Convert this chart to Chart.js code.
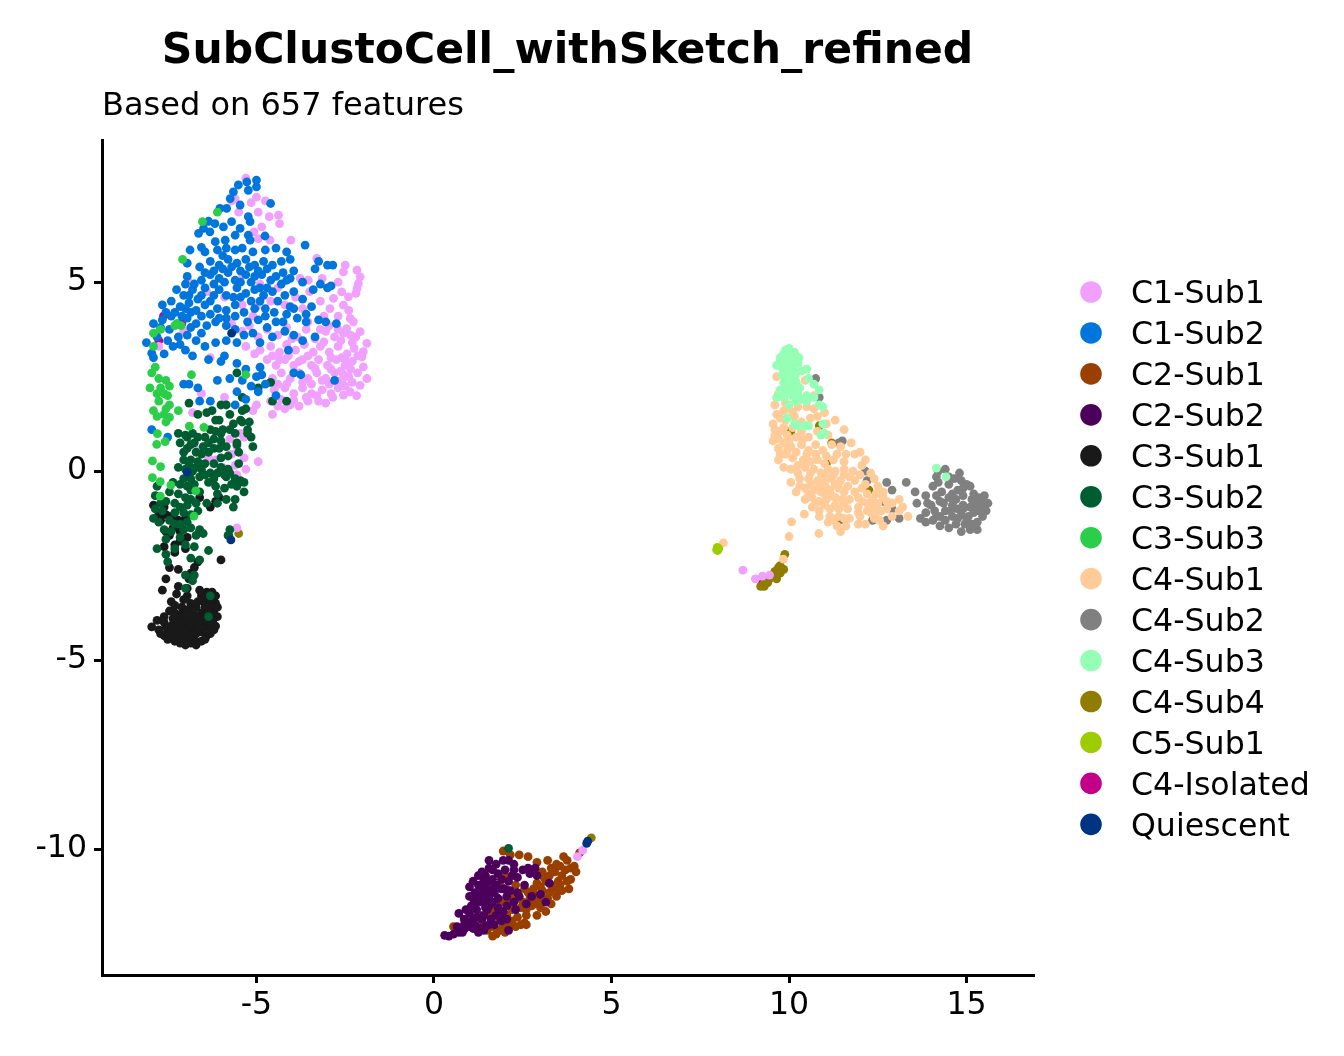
<!DOCTYPE html>
<html>
<head>
<meta charset="utf-8">
<script src="https://cdn.jsdelivr.net/npm/chart.js@4"></script>
<style>
html, body { margin: 0; padding: 0; background: #fff; }
canvas { display: block; }
</style>
</head>
<body>
<canvas id="umap" width="1344" height="1056"></canvas>
<script>
const clusterNames = ['C1-Sub1','C1-Sub2','C2-Sub1','C2-Sub2','C3-Sub1','C3-Sub2','C3-Sub3','C4-Sub1','C4-Sub2','C4-Sub3','C4-Sub4','C5-Sub1','C4-Isolated','Quiescent'];
const clusterColors = ['#F0A0FF','#0075DC','#993F00','#4C005C','#191919','#005C31','#2BCE48','#FFCC99','#808080','#94FFB5','#8F7C00','#9DCC00','#C20088','#003380'];
// lower = painted later, so it sits on top
const paintOrder = [5,3,5,3,6,4,2,4,6,2,7,1,8,0];
const xTicks = [-5,0,5,10,15];
const yTicks = [-10,-5,0,5];

const c1Sub1 = [[-5.3,7.75],[-5.6,7.2],[-5.0,7.25],[-5.15,7.1],[-5.7,7.15],[-4.75,7.15],[-5.5,6.85],[-4.95,6.85],[-4.85,6.46],[-5.07,6.33],[-4.95,6.15],[-4.64,6.73],[-4.38,6.77],[-4.35,6.55],[-4.03,6.11],[-4.62,6.11],[-3.3,5.63],[-2.5,5.45],[-2.17,5.32],[-2.55,5.27],[-2.08,5.14],[-2.13,4.96],[-2.17,4.83],[-3.77,5.1],[-3.54,5.05],[-2.6,4.74],[-2.83,4.57],[-2.41,4.61],[-2.93,4.3],[-2.55,4.39],[-2.36,4.04],[-2.27,3.95],[-2.46,3.77],[-2.08,3.69],[-1.89,3.38],[-1.99,3.16],[-2.03,3.02],[-1.99,2.76],[-1.89,2.45],[-2.08,2.27],[-2.55,2.01],[-2.36,2.1],
[-5.4,5.2],[-4.9,4.95],[-4.4,4.85],[-3.9,4.6],[-3.5,4.75],[-3.2,4.5],[-3.7,4.3],[-4.2,4.4],[-4.6,4.5],[-5.0,4.35],[-5.4,4.4],[-5.9,4.6],[-6.4,4.75],[-6.9,5.0],
[-5.7,3.9],[-5.4,3.7],[-5.2,3.85],[-4.95,3.55],[-4.7,3.75],[-4.4,3.6],[-4.15,3.8],[-3.85,3.55],[-3.6,3.75],[-3.35,3.5],[-3.05,3.7],[-2.8,3.55],[-2.55,3.65],[-2.3,3.4],
[-5.3,3.3],[-5.05,3.1],[-4.6,3.3],[-4.35,3.15],[-4.15,3.35],[-3.9,3.2],[-3.65,3.35],[-3.4,3.15],[-3.2,3.3],[-2.95,3.15],[-2.7,3.3],[-2.45,3.1],[-2.25,3.25],
[-4.7,2.95],[-4.45,2.8],[-4.2,2.95],[-3.95,2.8],[-3.7,2.95],[-3.45,2.8],[-3.25,2.95],[-3.0,2.8],[-2.75,2.95],[-2.5,2.8],[-2.3,2.9],[-2.15,2.6],
[-4.85,2.55],[-4.55,2.45],[-4.3,2.6],[-4.05,2.45],[-3.8,2.6],[-3.55,2.45],[-3.3,2.6],[-3.05,2.45],[-2.8,2.6],[-2.6,2.4],[-2.4,2.5],
[-4.5,2.15],[-4.2,2.2],[-3.95,2.05],[-3.7,2.2],[-3.45,2.05],[-3.15,2.15],[-2.9,2.05],[-2.7,2.2],[-2.5,2.25],
[-4.6,1.85],[-4.3,1.9],[-4.05,1.75],[-3.8,1.72],[-3.55,1.85],[-3.25,1.85],[-3.05,1.8],[-4.55,1.5],[-5.45,1.0],[-5.1,1.6],
[-6.8,1.55],[-5.9,1.95],[-6.55,2.05],[-5.0,1.75],[-6.3,3.0],[-7.05,3.7],[-7.75,3.3],
[-6.65,0.55],[-5.75,0.85],[-5.55,0.65],[-5.35,0.9],[-5.95,0.1],[-5.7,0.45],[-6.15,0.3],[-6.35,0.35],[-5.6,0.15],[-5.35,0.35],[-5.3,0.05],[-5.55,-0.1],[-4.95,0.25],[-5.55,-1.5],
[4.19,-10.03],[4.04,-10.2],[8.7,-2.62],[9.05,-2.85],[9.25,-2.78],[9.45,-2.75],
[-3.1,3.42],[-2.62,3.45],[-2.9,3.0],[-2.6,3.0],[-3.55,3.05],[-3.8,2.9],[-4.1,3.05],[-4.35,2.95],[-4.55,3.05],[-3.35,2.72],[-2.9,2.7],[-2.62,2.65],[-2.35,2.7],[-3.15,2.4],[-2.95,2.3],[-3.45,2.3],[-3.7,2.35],[-4.15,2.3],[-4.4,2.3],[-2.75,2.38],[-2.55,2.55],[-3.3,2.0],[-3.6,1.95],[-4.4,1.72],[-4.2,1.65],[-3.95,1.88],[-2.85,1.95],[-2.15,3.05],[-2.2,3.55],[-2.35,3.6],[-2.7,3.75],[-2.95,3.85],[-3.2,3.75],[-3.55,3.95],[-2.5,2.95],[-2.3,2.35],[-2.18,2.0],[-2.7,4.1],[-2.4,4.25],[-3.1,4.1],[-2.2,4.7],[-2.7,5.0],[-3.15,5.1],[-5.1,4.1],[-4.9,3.2],[-4.0,3.5]];
const c1Sub2 = [[-5.27,7.65],[-5.0,7.7],[-5.51,7.57],[-5.23,7.43],[-5.65,7.39],[-5.0,7.52],[-5.74,7.21],[-6.03,6.95],[-5.84,6.95],[-5.46,7.04],[-4.6,7.08],[-5.23,6.73],[-5.18,6.6],[-5.7,6.6],[-6.35,6.61],[-6.17,6.55],[-5.93,6.46],[-5.46,6.42],[-6.49,6.42],[-6.63,6.29],[-6.31,6.33],[-5.23,6.24],[-4.76,6.22],[-5.18,6.11],[-5.6,6.24],[-5.88,6.11],[-6.16,6.07],[-3.63,5.98],
[-6.87,5.85],[-6.55,5.92],[-6.45,5.8],[-6.1,5.85],[-5.85,5.9],[-5.6,5.85],[-5.4,5.9],[-5.1,5.8],[-4.75,5.85],[-4.45,5.9],[-4.15,5.8],[-4.05,5.6],[-4.3,5.55],
[-6.95,5.5],[-6.6,5.4],[-6.3,5.55],[-6.05,5.45],[-5.8,5.6],[-5.55,5.5],[-5.3,5.6],[-5.05,5.45],[-4.8,5.55],[-4.55,5.45],[-3.95,5.3],[-4.25,5.25],[-3.25,5.55],[-3.0,5.45],[-2.85,5.45],[-3.35,5.35],
[-6.95,5.15],[-7.0,4.95],[-6.55,5.05],[-6.3,5.2],[-6.05,5.1],[-5.8,5.25],[-5.6,5.05],[-5.3,5.2],[-5.15,5.0],[-4.85,5.2],[-4.6,5.05],[-4.3,4.95],[-4.05,5.1],[-3.7,5.0],[-3.4,4.8],[-3.2,4.95],[-3.0,4.85],[-2.9,4.9],
[-7.25,4.8],[-7.05,4.65],[-6.8,4.8],[-6.55,4.65],[-6.3,4.5],[-6.05,4.8],[-5.85,4.65],[-5.55,4.85],[-5.3,4.7],[-5.05,4.8],[-4.8,4.65],[-4.55,4.75],[-4.2,4.65],[-3.95,4.75],[-3.7,4.55],[-3.45,4.35],
[-7.65,4.4],[-7.4,4.5],[-7.15,4.35],[-6.9,4.45],[-6.7,4.25],[-6.45,4.4],[-6.1,4.3],[-5.85,4.25],[-5.6,4.4],[-5.35,4.2],[-5.05,4.3],[-4.75,4.3],[-4.5,4.2],[-4.15,4.15],[-3.85,4.05],[-3.6,3.95],[-3.25,4.0],[-3.05,3.95],[-2.75,3.9],
[-7.9,3.9],[-7.65,4.0],[-7.4,4.1],[-7.2,3.9],[-6.95,4.05],[-6.7,3.9],[-6.4,3.85],[-6.15,3.95],[-5.85,3.85],[-5.6,3.75],[-5.25,3.95],[-4.95,4.0],[-4.7,3.8],[-4.45,3.95],[-4.2,3.7],[-3.95,3.6],[-3.7,3.45],[-3.35,3.55],
[-8.1,3.4],[-7.8,3.55],[-7.5,3.45],[-7.2,3.55],[-6.95,3.6],[-6.7,3.45],[-6.45,3.3],[-6.15,3.4],[-5.85,3.45],[-5.55,3.4],[-4.9,3.4],[-4.55,3.55],[-4.1,3.2],[-7.9,3.0],[-7.6,3.1],[-7.0,3.2],[-6.8,3.05],[-6.35,2.95],[-5.9,3.05],[-5.55,2.85],[-5.3,2.7],[-4.9,2.75],[-3.75,2.55],[-2.8,2.4],
[-7.95,3.12],[-7.05,2.3],[-6.65,2.2],[-6.1,2.4],[-5.75,2.45],[-5.4,2.4],[-5.15,2.25],[-4.95,2.1],[-4.75,2.3],[-4.85,2.55],[-6.3,1.85],[-5.3,1.9],[-5.6,1.75],[-4.45,2.0],[-3.95,2.6],[-7.95,1.1],[-6.9,2.3],[-6.6,1.85],[-5.55,2.1],[-6.0,2.9],[-5.0,2.5],[-7.5,0.9],
[-5.95,5.7],[-5.7,5.4],[-5.45,5.3],[-5.2,5.4],[-4.95,5.3],[-4.7,5.35],[-5.95,5.35],[-6.2,5.3],[-6.45,5.25],[-5.9,5.0],[-5.45,5.0],[-5.05,5.15],[-4.9,4.85],[-4.7,4.85],[-4.45,5.15],[-4.15,5.05],[-6.2,4.95],[-6.45,4.85],[-6.75,4.95],[-6.9,4.65],[-6.65,4.55],[-6.2,4.65],[-5.65,4.6],[-5.45,4.6],[-5.15,4.5],[-4.9,4.5],[-4.4,4.5],[-4.05,4.35],[-7.0,4.3],[-7.3,4.2],[-7.55,4.2],[-7.1,4.1],[-6.85,4.2],[-6.55,4.1],[-7.45,3.75],[-7.7,3.8],[-6.85,3.8],[-6.55,3.65],[-7.35,3.3],[-7.15,3.35],[-5.35,3.6],[-5.1,3.65],[-4.25,3.95],[-4.75,4.1],[-3.6,4.15],[-3.95,4.3],[-5.6,4.1],[-5.85,4.05],[-6.3,4.15],[-6.05,4.05]];
const c2Sub1 = [[1.95,-10.05],[2.15,-10.15],[2.4,-10.15],[2.65,-10.2],[2.9,-10.35],[3.2,-10.3],[3.45,-10.4],[3.75,-10.3],[3.95,-10.45],[4.0,-10.6],[2.75,-10.55],[3.05,-10.6],[3.4,-10.6],[3.7,-10.55],[3.85,-10.8],[3.5,-10.85],[3.15,-10.85],[2.9,-10.9],[3.8,-11.05],[3.6,-11.1],[3.35,-11.05],[3.05,-11.1],[2.8,-11.05],[2.55,-11.05],[2.3,-10.95],[2.1,-11.1],[3.45,-11.25],[3.2,-11.3],[2.95,-11.35],[2.7,-11.3],[2.4,-11.3],[2.2,-11.35],[1.85,-11.35],[3.3,-11.45],[3.0,-11.55],[2.75,-11.5],[2.45,-11.55],[2.2,-11.6],[1.9,-11.4],[3.15,-11.65],[2.9,-11.75],[2.6,-11.75],[2.35,-11.8],[2.05,-11.75],[1.85,-11.85],[1.55,-11.7],[2.45,-12.0],[2.6,-12.0],[2.3,-12.05],[2.1,-12.05],[1.65,-12.05],[2.0,-12.2],[1.85,-12.15],[1.65,-12.3],[1.75,-12.25],[1.1,-11.85],[0.55,-12.05],[1.3,-11.75],[1.9,-11.0],[2.0,-10.7],[2.8,-11.2],[1.35,-11.95],[3.1,-10.75],[3.65,-10.2],[2.55,-11.95],[1.5,-12.15],[4.1,-10.1],
[3.3,-10.5],[3.55,-10.45],[3.85,-10.5],[3.25,-10.7],[3.6,-10.7],[3.75,-10.85],[3.3,-10.95],[3.0,-11.0],[3.55,-10.95],[3.25,-11.15],[3.5,-11.05],[2.65,-11.15],[2.5,-11.4],[2.85,-11.45],[2.25,-11.2],[2.05,-11.45],[1.7,-11.6],[2.6,-11.6],[2.2,-11.9],[1.95,-12.05]];
const c2Sub2 = [[0.3,-12.28],[0.42,-12.3],[0.55,-12.25],[0.7,-12.2],[0.85,-12.12],[0.65,-12.05],[0.9,-11.95],[1.1,-12.1],[1.25,-12.2],[1.45,-12.05],[1.7,-12.0],[1.05,-11.9],[0.85,-11.85],[0.7,-11.7],[1.0,-11.7],[1.2,-11.6],[1.4,-11.75],[1.6,-11.85],[1.85,-11.75],[2.05,-11.85],[1.15,-11.45],[1.35,-11.4],[1.55,-11.5],[1.8,-11.55],[2.05,-11.5],[2.3,-11.6],[1.0,-11.25],[1.15,-11.15],[1.35,-11.2],[1.55,-11.25],[1.8,-11.3],[2.05,-11.25],[2.25,-11.4],[2.6,-11.45],[1.0,-11.0],[1.1,-10.85],[1.25,-10.95],[1.45,-11.0],[1.65,-11.05],[1.9,-11.05],[2.15,-11.1],[2.35,-11.15],[2.75,-11.25],[3.15,-11.4],[3.0,-11.2],[1.25,-10.7],[1.45,-10.7],[1.65,-10.8],[1.9,-10.8],[2.1,-10.85],[2.35,-10.75],[2.55,-10.95],[2.7,-10.65],[2.9,-10.7],[3.25,-10.9],[1.55,-10.5],[1.75,-10.4],[2.0,-10.55],[2.25,-10.55],[2.5,-10.55],[2.65,-10.5],[2.85,-10.5],[1.55,-10.3],[1.95,-10.3],[2.1,-10.3],[2.25,-10.4],[0.95,-12.0],[1.0,-12.05],[1.5,-11.6],[1.3,-12.1],[1.9,-11.9],[2.1,-12.15],[1.1,-11.3],[1.7,-11.15],[2.4,-11.25],
[1.25,-11.3],[1.45,-11.35],[1.65,-11.4],[1.3,-11.05],[1.55,-11.1],[1.75,-10.95],[1.4,-10.85],[1.55,-10.85],[1.8,-10.65],[1.65,-10.55],[0.85,-12.0],[1.15,-12.0],[1.35,-11.85],[1.55,-12.0],[1.75,-11.75],[1.2,-11.8],[1.05,-11.5],[0.9,-11.6],[1.45,-11.55],[2.0,-11.05],[1.35,-10.6],[2.2,-10.7],[0.8,-12.2],[1.4,-12.15],[1.95,-11.65]];
const c3Sub1 = [[-7.95,-4.12],[-7.8,-3.95],[-7.75,-4.2],[-7.6,-4.35],[-7.55,-4.1],[-7.4,-4.4],[-7.3,-4.5],[-7.25,-4.2],[-7.15,-4.55],[-7.05,-4.4],[-7.0,-4.6],[-6.85,-4.55],[-6.75,-4.45],[-6.7,-4.6],[-6.55,-4.5],[-6.4,-4.35],[-6.35,-4.15],[-6.25,-4.0],[-6.2,-3.9],[-6.15,-4.1],[-6.3,-4.3],[-7.5,-4.25],[-7.35,-4.05],[-7.2,-3.95],[-7.05,-4.1],[-6.9,-4.25],[-6.75,-4.2],[-6.6,-4.05],[-6.45,-4.0],[-7.15,-3.8],[-7.0,-3.85],[-6.85,-3.95],[-6.7,-3.95],[-7.6,-3.85],[-7.45,-3.7],[-7.1,-3.6],[-7.3,-3.55],[-6.9,-3.65],[-6.45,-3.5],[-6.3,-3.45],[-6.2,-3.7],[-6.15,-3.5],[-6.55,-3.75],[-6.4,-3.2],[-6.25,-3.2],[-6.55,-3.3],[-6.6,-3.15],[-6.15,-3.3],[-6.3,-3.55],[-6.1,-3.85],[-7.4,-3.45],[-7.25,-3.25],[-7.2,-3.05],[-7.05,-3.4],[-6.95,-3.3],[-6.95,-3.1],[-6.9,-2.85],[-6.85,-2.7],[-6.75,-2.55],[-7.65,-3.15],[-7.55,-2.85],[-6.65,-2.4],[-6.0,-2.35],[-7.2,-2.6],[-7.45,-2.55],[-7.6,-2.0],[-7.3,-1.95],[-7.15,-1.85],[-7.45,-1.7],[-7.55,-1.6],[-7.35,-1.5],[-7.15,-1.6],[-6.95,-1.75],[-7.55,-1.15],[-7.6,-0.95],[-7.7,-1.3],[-7.4,-1.2],[-7.2,-1.3],[-6.6,-1.6],[-6.3,-0.95],[-6.15,-0.8],[-6.05,-0.7],[-6.6,-0.7],[-7.0,-1.25],[-7.75,-1.15],[-7.9,-0.9],[-7.0,-2.05],[-7.3,-2.15],
[-7.7,-4.3],[-7.6,-4.0],[-7.45,-4.15],[-7.3,-4.35],[-7.15,-4.3],[-7.0,-4.25],[-6.85,-4.4],[-6.7,-4.3],[-6.55,-4.25],[-6.45,-4.45],[-7.5,-4.45],[-7.2,-4.45],[-6.95,-4.5],[-7.35,-3.9],[-7.2,-4.1],[-6.95,-3.95],[-6.8,-4.1],[-6.6,-3.9],[-6.5,-4.15],[-6.4,-3.85],[-7.1,-3.95],[-6.35,-3.7],[-6.25,-3.6],[-6.45,-3.6],[-6.2,-3.35],[-6.1,-3.6],[-6.35,-3.35],[-6.5,-3.4],[-7.0,-3.75],[-6.75,-3.8],[-7.3,-3.75],[-6.9,-4.1],[-6.65,-4.15],[-7.4,-4.3],[-7.05,-4.5],[-6.55,-3.95],[-6.2,-4.2],[-7.25,-4.0],[-6.8,-3.85],[-6.7,-3.6],[-6.85,-3.5],[-6.65,-3.45]];
const c3Sub2 = [[-6.9,1.8],[-6.0,1.75],[-5.4,1.95],[-6.25,1.6],[-6.15,1.35],[-5.85,1.75],[-5.75,1.5],[-5.65,1.25],[-5.4,1.6],[-5.25,1.1],[-5.55,2.6],[-4.6,2.35],[-4.55,1.85],[-4.15,1.85],[-4.95,2.2],
[-5.3,1.65],[-5.45,1.35],[-6.65,1.5],[-6.4,1.55],[-6.05,1.35],[-5.75,1.1],[-5.6,1.0],[-5.4,1.3],[-5.2,1.3],[-5.15,0.9],[-6.0,0.8],[-7.2,1.0],[-6.95,0.9],[-6.8,1.0],[-6.65,0.9],[-6.45,0.9],[-6.2,0.85],[-6.0,1.0],[-5.95,1.1],[-5.55,0.75],[-5.25,1.0],[-5.5,0.5],[-5.55,0.7],[-5.1,0.65],
[-7.15,0.75],[-6.95,0.6],[-6.85,0.7],[-6.7,0.5],[-6.5,0.65],[-6.35,0.5],[-6.2,0.6],[-6.0,0.35],[-5.8,0.4],[-5.5,0.2],[-7.05,0.3],[-6.85,0.3],[-6.65,0.25],[-6.45,0.2],[-6.2,0.2],[-6.0,0.1],[-5.8,0.05],[-5.9,-0.1],[-7.2,0.1],[-7.0,0.05],[-6.8,0.0],[-6.55,0.05],[-6.3,-0.05],[-6.1,-0.05],[-5.85,-0.15],[-5.6,-0.2],[-5.45,-0.25],[-5.35,-0.3],[-7.05,-0.2],[-6.85,-0.2],[-6.6,-0.15],[-6.35,-0.3],[-6.15,-0.4],[-5.9,-0.45],[-5.7,-0.35],[-5.55,-0.4],[-5.35,-0.55],[-7.85,-0.65],[-7.7,-0.85],[-7.45,-0.55],[-7.2,-0.6],[-7.0,-0.7],[-6.85,-0.5],[-6.6,-0.55],[-6.95,-0.9],[-6.7,-0.85],[-6.4,-0.85],[-6.1,-0.85],[-5.85,-0.75],[-5.6,-0.75],[-5.65,-0.95],[-7.85,-1.0],[-7.65,-1.05],[-7.3,-1.1],[-7.05,-1.1],[-6.85,-1.15],[-6.65,-1.05],[-7.9,-1.25],[-7.75,-1.35],[-7.3,-1.4],[-7.15,-1.4],[-6.95,-1.35],[-6.85,-1.5],[-7.6,-1.55],[-7.55,-1.8],[-7.4,-1.6],[-7.15,-1.75],[-6.7,-1.7],[-6.6,-1.55],[-6.5,-1.65],[-7.3,-2.05],[-7.0,-1.95],[-6.75,-2.0],[-7.8,-2.05],[-7.55,-2.2],[-6.85,-2.3],[-6.6,-2.35],[-6.35,-2.1],[-7.5,-2.4],[-6.75,-2.75],[-7.0,-2.75],[-6.8,-2.9],[-5.75,-1.55],[-5.8,-1.7],[-7.0,-3.1],[-6.3,-3.3],[-6.35,-3.85],[-7.8,-0.4],[2.1,-9.98],[-5.78,-1.7],
[-7.05,0.5],[-6.75,0.75],[-6.55,0.45],[-6.9,0.15],[-6.7,0.1],[-6.45,-0.1],[-6.2,-0.2],[-6.75,-0.35],[-6.95,-0.4],[-7.15,-0.35],[-7.3,-0.85],[-7.15,-0.95],[-6.85,-0.75],[-7.55,-0.8],[-7.0,0.95],[-6.3,1.1],[-6.15,1.05],[-6.35,0.75],[-6.05,0.6],[-5.85,0.65],[-5.75,-0.05],[-6.1,-0.6],[-7.45,-1.3],[-7.05,-1.55],[-7.35,-0.3]];
const c3Sub3 = [[-6.1,6.85],[-6.52,6.6],[-7.08,5.6],[-7.9,3.65],[-7.7,3.75],[-7.3,3.85],[-7.12,3.85],[-7.25,3.9],[-7.9,3.3],[-6.83,2.55],[-5.3,2.55],[-7.95,2.6],[-7.85,2.75],[-7.75,2.45],[-7.55,2.4],[-7.45,2.25],[-7.7,2.2],[-7.6,2.05],[-7.8,2.05],[-8.0,2.2],[-7.5,2.0],[-7.45,1.75],[-7.75,1.85],[-7.55,1.65],[-7.9,1.6],[-7.6,1.5],[-7.8,1.45],[-7.2,1.6],[-7.45,1.42],[-7.55,1.3],
[-7.79,0.99],[-7.81,0.71],[-7.57,0.78],[-6.89,1.19],[-6.48,1.16],[-7.93,0.27],[-7.7,0.12],[-7.93,-0.17],[-7.71,-0.28],[-7.41,-0.37],[-6.71,-0.52],[-7.71,-0.66],[-6.76,-1.19]];
const c4Sub1 = [[9.65,2.5],[10.45,2.4],[9.7,2.05],[10.7,2.0],[9.6,1.75],[9.9,1.8],[10.0,1.65],[10.25,1.7],[10.5,1.7],[10.7,1.65],[11.0,1.55],[11.3,1.35],[11.05,1.25],[9.55,1.25],[9.75,1.4],[9.9,1.35],[10.15,1.45],[10.35,1.3],[10.6,1.4],[10.8,1.45],[11.1,0.95],[11.55,1.1],[9.6,0.95],[9.75,1.05],[9.95,0.95],[10.1,1.15],[10.35,1.05],[10.55,0.9],[10.8,1.05],[9.7,0.6],[9.85,0.75],[10.05,0.65],[10.35,0.7],[10.55,0.55],[10.75,0.7],[10.95,0.55],[11.2,0.7],[11.45,0.65],[11.75,0.75],[9.7,0.3],[9.9,0.45],[10.1,0.35],[10.4,0.3],[10.6,0.25],[10.8,0.3],[11.0,0.2],[11.25,0.3],[11.55,0.25],[11.85,0.45],[12.0,0.5],[9.85,0.1],[10.25,-0.05],[10.45,0.1],[10.7,0.05],[10.9,-0.05],[11.1,0.05],[11.3,0.0],[11.55,0.05],[11.8,0.0],[12.05,0.15],[12.15,0.3],[10.05,-0.3],[10.3,-0.2],[10.55,-0.2],[10.8,-0.25],[11.0,-0.3],[11.2,-0.2],[11.45,-0.25],[11.7,-0.15],[12.0,-0.1],[12.3,-0.05],[12.4,-0.2],[10.2,-0.55],[10.45,-0.45],[10.7,-0.5],[10.9,-0.55],[11.15,-0.5],[11.4,-0.45],[11.65,-0.4],[12.15,-0.35],[12.5,-0.4],[10.45,-0.75],[10.65,-0.7],[10.85,-0.8],[11.05,-0.75],[11.3,-0.7],[11.7,-0.75],[11.95,-0.7],[12.2,-0.6],[12.45,-0.6],[12.65,-0.55],[10.65,-0.95],[10.85,-1.05],[11.15,-1.0],[11.4,-1.0],[11.65,-1.0],[11.95,-0.95],[12.2,-0.85],[12.5,-0.85],[12.75,-0.8],[13.1,-0.75],[10.85,-1.2],[11.15,-1.2],[11.4,-1.2],[11.7,-1.25],[12.0,-1.2],[12.3,-1.1],[12.6,-1.05],[13.1,-1.05],[13.35,-1.2],[13.2,-0.95],[11.1,-1.35],[11.35,-1.45],[11.6,-1.45],[11.95,-1.4],[12.15,-1.4],[12.4,-1.25],[12.55,-1.3],[12.9,-1.2],[12.65,-1.45],[10.43,-1.14],[10.07,-1.34],[11.45,-1.6],[10.0,-1.73],[10.84,-1.65],[9.84,-2.33],[8.15,-1.9],
[9.65,1.5],[9.85,1.6],[10.1,1.55],[9.7,0.85],[9.6,1.1],[9.85,1.15],[10.0,0.8],[10.2,0.9],[10.4,0.85],[9.55,0.8],[9.75,0.45],[9.95,0.55],[10.2,0.5],[10.5,0.45],[10.75,0.45],[11.05,0.4],[11.35,0.45],[11.6,0.45],[10.05,0.05],[10.25,0.15],[10.6,-0.05],[11.0,-0.1],[11.25,-0.1],[11.55,-0.1],[11.85,-0.25],[10.3,-0.4],[10.6,-0.35],[10.85,-0.4],[11.05,-0.45],[11.3,-0.35],[11.55,-0.55],[11.85,-0.55],[12.05,-0.45],[10.55,-0.6],[11.0,-0.6],[11.2,-0.65],[11.5,-0.75],[10.75,-0.85],[11.0,-0.9],[11.3,-0.9],[11.55,-0.85],[12.35,-0.75],[12.05,-0.8],[12.65,-0.7],[12.9,-0.85],[12.4,-0.95],[12.75,-1.0],[11.25,-1.3],[11.95,-1.1],[12.2,-1.05],[11.55,-1.25],[12.45,-1.1]];
const c4Sub2 = [[10.75,2.45],[10.85,1.95],[11.5,0.8],[11.4,0.75],[12.15,-0.0],[12.2,-0.25],[12.65,-0.8],[12.9,-0.5],[12.75,-0.3],[13.3,-0.3],[13.55,-0.55],[13.85,-0.65],[12.9,-1.0],[12.35,-1.3],[11.55,-1.3],[12.75,-1.3],[13.1,-1.25],[13.6,-0.85],[13.9,-0.85],
[14.2,-0.3],[14.2,0.0],[14.4,0.05],[14.15,-0.15],[14.05,-0.4],[14.3,-0.55],[14.5,-0.35],[14.5,-0.7],[14.25,-0.8],[14.0,-0.9],[13.85,-1.1],[13.7,-1.25],[13.85,-1.35],[14.05,-1.3],[14.25,-1.2],[14.1,-1.05],[14.4,-1.05],[14.6,-0.9],[14.75,-0.5],[14.65,-0.2],[14.85,-0.25],[15.0,-0.35],[15.1,-0.4],[14.9,-0.65],[15.15,-0.75],[14.7,-0.75],[14.9,-0.9],[15.1,-0.95],[15.3,-0.85],[15.45,-0.75],[15.5,-0.95],[15.6,-0.85],[15.55,-1.05],[15.35,-1.05],[15.45,-1.2],[15.3,-1.35],[15.05,-1.2],[14.85,-1.15],[14.6,-1.2],[14.4,-1.3],[14.25,-1.45],[14.5,-1.5],[14.7,-1.4],[14.95,-1.4],[15.1,-1.55],[15.3,-1.55],[14.85,-1.6],[15.0,-1.25],[14.55,-1.05],[15.2,-0.6],[14.8,-0.05],
[14.35,-0.85],[14.15,-0.65],[14.75,-1.0],[15.2,-1.1],[15.25,-1.0],[15.4,-0.95],[15.15,-1.4],[14.75,-1.25],[14.6,-0.6],[14.9,-0.45],[15.35,-0.7],[14.5,-0.15],[14.9,-1.0],[14.15,-1.2],[15.5,-0.65]];
const c4Sub3 = [[9.9,3.2],[10.0,3.25],[10.05,3.1],[9.85,3.1],[10.15,3.15],[10.2,3.0],[9.95,2.95],[9.75,2.9],[10.1,2.9],[10.25,2.85],[9.65,2.8],[9.8,2.75],[10.35,2.65],[10.5,2.7],[9.9,2.6],[10.15,2.5],[10.55,2.45],[9.85,2.35],[10.0,2.35],[10.2,2.35],[10.7,2.3],[9.75,2.15],[10.05,2.15],[10.3,2.2],[10.85,2.15],[9.65,1.95],[9.85,1.95],[10.1,2.0],[10.35,1.9],[10.5,2.0],[10.7,1.95],[10.0,1.75],[10.85,1.75],[10.95,1.7],[10.5,1.85],[9.95,1.4],[10.15,1.25],[10.25,1.2],[10.45,1.2],[10.55,1.2],[10.95,1.25],[11.0,1.0],[10.9,0.95],[14.15,0.08],[14.42,-0.15],
[9.95,2.8],[10.1,2.75],[9.95,2.45],[10.1,2.4],[10.2,2.6],[9.9,2.2],[10.15,2.25],[9.8,2.05],[9.95,2.05],[10.25,2.05],[10.0,2.6],[9.8,2.55],[10.05,3.0],[10.28,3.0],[9.75,3.0],[10.2,1.85]];
const c4Sub4 = [[10.05,1.05],[9.95,1.0],[10.85,1.2],[11.2,0.75],[11.05,0.2],[12.25,-0.5],[11.4,-1.3],[11.18,-1.25],[9.88,-2.2],[9.75,-2.5],[9.7,-2.55],[9.85,-2.6],[9.6,-2.65],[9.75,-2.7],[9.55,-2.75],[9.65,-2.85],[9.45,-2.85],[9.4,-2.95],[9.3,-2.95],[9.2,-3.05],[9.3,-3.05],[4.43,-9.7],[-5.5,-1.65]];
const c5Sub1 = [[7.98,-2.02],[7.96,-2.08],[8.02,-2.05],[7.99,-2.1]];
const c4Isolated = [[-7.62,4.1],[-7.75,3.45],[-7.1,3.9],[9.25,-2.97]];
const quiescent = [[4.33,-9.79],[4.3,-9.85],[-6.95,-0.03],[-5.72,-1.82],[-5.7,3.65]];
const pointSets = [c1Sub1,c1Sub2,c2Sub1,c2Sub2,c3Sub1,c3Sub2,c3Sub3,c4Sub1,c4Sub2,c4Sub3,c4Sub4,c5Sub1,c4Isolated,quiescent];

const FONT = '"DejaVu Sans", sans-serif';

// ggplot style legend, set out to the right of the panel
const sideLegend = {
    id: 'sideLegend',
    afterDraw(chart) {
        const ctx = chart.ctx;
        ctx.save();
        ctx.font = '31.6px ' + FONT;
        ctx.textBaseline = 'middle';
        clusterNames.forEach((name, i) => {
            const y = 292 + i * 40.95;
            ctx.fillStyle = clusterColors[i];
            ctx.beginPath();
            ctx.arc(1091, y, 10.8, 0, Math.PI * 2);
            ctx.fill();
            ctx.fillStyle = '#000';
            ctx.fillText(name, 1131, y + 3);
        });
        ctx.restore();
    }
};

new Chart(document.getElementById('umap'), {
    type: 'scatter',
    data: {
        datasets: clusterNames.map((name, i) => ({
            label: name,
            data: pointSets[i].map(p => ({ x: p[0], y: p[1] })),
            order: paintOrder[i],
            backgroundColor: clusterColors[i],
            pointRadius: 4.4,
            pointBorderWidth: 0
        }))
    },
    options: {
        responsive: false,
        animation: false,
        devicePixelRatio: 1,
        layout: { padding: { right: 311 } },
        plugins: {
            legend: { display: false },
            tooltip: { enabled: false },
            title: {
                display: true,
                fullSize: false,
                text: 'SubClustoCell_withSketch_refined',
                color: '#000',
                font: { family: FONT, size: 42.5, weight: 'bold' },
                padding: { top: 26.5, bottom: 10.3 }
            },
            subtitle: {
                display: true,
                fullSize: false,
                align: 'start',
                text: 'Based on 657 features',
                color: '#000',
                font: { family: FONT, size: 32 },
                padding: { top: 0, bottom: 13.8 }
            }
        },
        scales: {
            x: {
                type: 'linear',
                min: -9.35,
                max: 16.87,
                afterBuildTicks: s => { s.ticks = xTicks.map(v => ({ value: v })); },
                afterFit: s => { s.height = 81; },
                border: { color: '#000', width: 3 },
                grid: { drawOnChartArea: false, color: '#000', lineWidth: 3, tickLength: 8 },
                ticks: { color: '#000', font: { family: FONT, size: 31.6 }, padding: 4, maxRotation: 0, autoSkip: false }
            },
            y: {
                type: 'linear',
                min: -13.33,
                max: 8.76,
                afterBuildTicks: s => { s.ticks = yTicks.map(v => ({ value: v })); },
                afterFit: s => { s.width = 102; },
                border: { color: '#000', width: 3 },
                grid: { drawOnChartArea: false, color: '#000', lineWidth: 3, tickLength: 8 },
                ticks: { color: '#000', font: { family: FONT, size: 31.6 }, padding: 7, autoSkip: false }
            }
        }
    },
    plugins: [sideLegend]
});
</script>
</body>
</html>
